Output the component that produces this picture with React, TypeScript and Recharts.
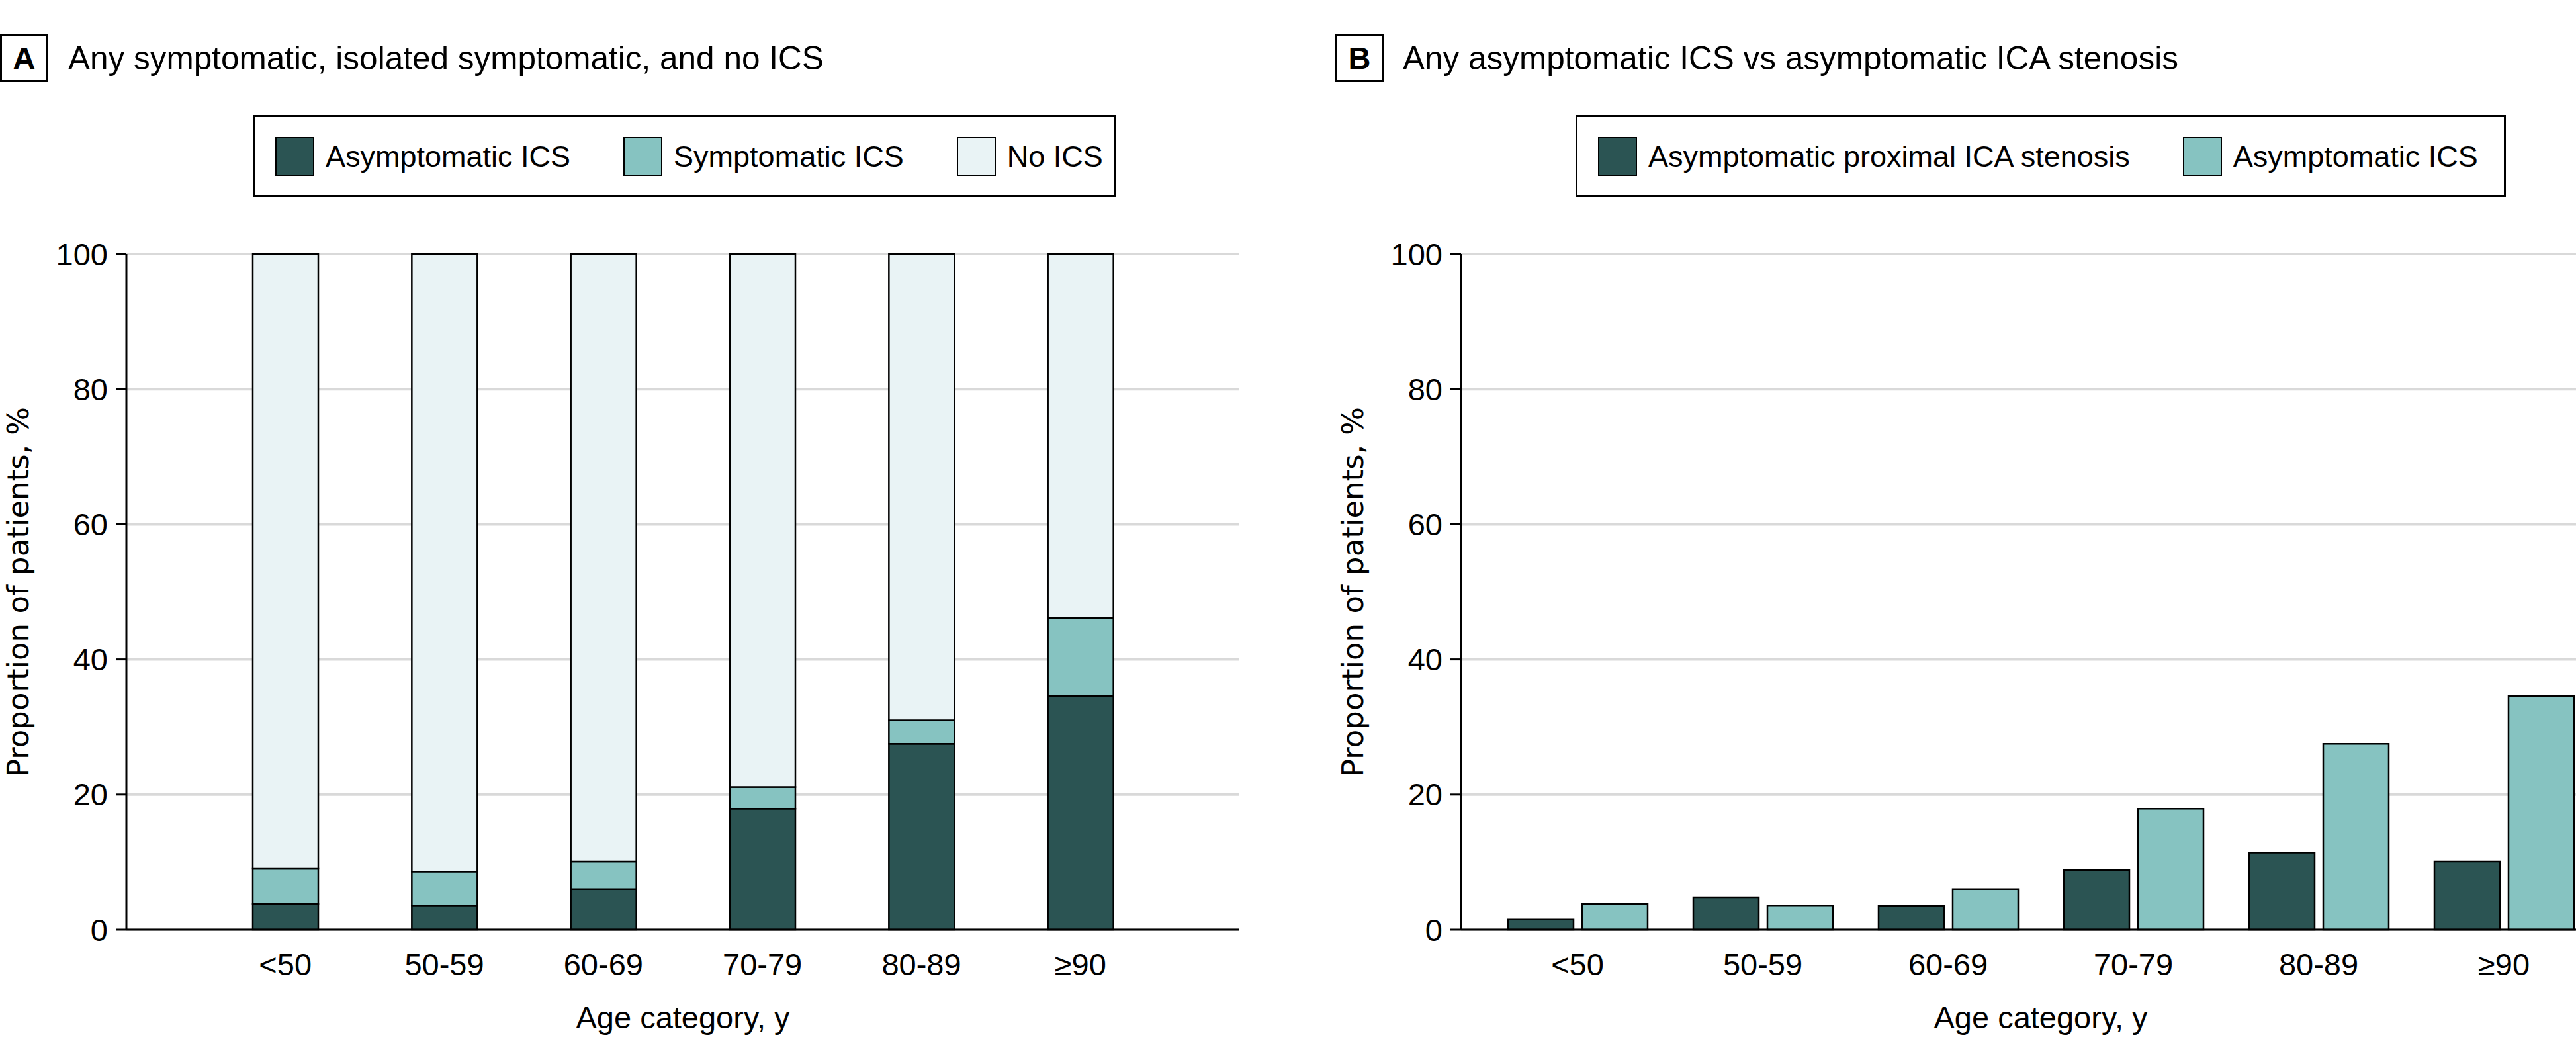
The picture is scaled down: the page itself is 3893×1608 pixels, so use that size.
import React from 'react';
import { BarChart, Bar, XAxis, YAxis, CartesianGrid, Label } from 'recharts';

const AGE_GROUPS = ['<50', '50-59', '60-69', '70-79', '80-89', '≥90'];

// panel A: stacked shares, %
const ASYMPTOMATIC_ICS = [3.8, 3.6, 6.0, 17.9, 27.5, 34.6];
const SYMPTOMATIC_ICS = [5.2, 5.0, 4.1, 3.2, 3.5, 11.5];
const NO_ICS = [91.0, 91.4, 89.9, 78.9, 69.0, 53.9];

// panel B: grouped, %
const ICA_STENOSIS = [1.5, 4.8, 3.5, 8.8, 11.4, 10.1];

const Y_TICKS = [0, 20, 40, 60, 80, 100];

const DARK = '#2b5453';
const MID = '#86c3c1';
const LIGHT = '#e9f3f5';

const FONT = "'Liberation Sans', Arial, sans-serif";

const seriesA = [
  { key: 'asym', label: 'Asymptomatic ICS', color: DARK },
  { key: 'sym', label: 'Symptomatic ICS', color: MID },
  { key: 'none', label: 'No ICS', color: LIGHT },
];

const seriesB = [
  { key: 'ica', label: 'Asymptomatic proximal ICA stenosis', color: DARK },
  { key: 'asym', label: 'Asymptomatic ICS', color: MID },
];

const dataA = AGE_GROUPS.map((age, i) => ({
  age,
  asym: ASYMPTOMATIC_ICS[i],
  sym: SYMPTOMATIC_ICS[i],
  none: NO_ICS[i],
}));

const dataB = AGE_GROUPS.map((age, i) => ({
  age,
  ica: ICA_STENOSIS[i],
  asym: ASYMPTOMATIC_ICS[i],
}));

const tickStyle = { fill: '#000', fontSize: 47, fontFamily: FONT };

const renderYTitle = (props: any) => {
  const { x, y, width, height } = props.viewBox;
  const bx = x + width - 148;
  const cy = y + height / 2;
  return (
    <text
      x={bx}
      y={cy}
      transform={`rotate(-90 ${bx} ${cy})`}
      textAnchor='middle'
      fontSize={45}
      fontFamily="'DejaVu Sans', sans-serif"
      fill='#000'
    >
      Proportion of patients, %
    </text>
  );
};

const renderXTitle = (props: any) => {
  const { x, y, width } = props.viewBox;
  return (
    <text
      x={x + width / 2}
      y={y + 149}
      textAnchor='middle'
      fontSize={47}
      fontFamily={FONT}
      fill='#000'
    >
      Age category, y
    </text>
  );
};

const LegendBox = ({
  items,
  left,
  width,
  padLeft,
}: {
  items: { key: string; label: string; color: string }[];
  left: number;
  width: number;
  padLeft: number;
}) => (
  <div
    style={{
      position: 'absolute',
      left,
      top: 174,
      width,
      height: 124,
      boxSizing: 'border-box',
      border: '3px solid #000',
      display: 'flex',
      alignItems: 'center',
      paddingLeft: padLeft,
      fontFamily: FONT,
      fontSize: 45,
    }}
  >
    {items.map((s) => (
      <div
        key={s.key}
        style={{ display: 'flex', alignItems: 'center', marginRight: 80 }}
      >
        <div
          style={{
            width: 59,
            height: 59,
            boxSizing: 'border-box',
            border: '2.5px solid #000',
            background: s.color,
            marginRight: 17,
          }}
        />
        <span style={{ lineHeight: 1, whiteSpace: 'nowrap' }}>{s.label}</span>
      </div>
    ))}
  </div>
);

const axisCommon = {
  stroke: '#000',
  strokeWidth: 3,
};

const App = () => {
  return (
    <div
      style={{
        position: 'absolute',
        left: 0,
        top: 0,
        width: 3893,
        height: 1608,
        overflow: 'hidden',
        background: '#fff',
        fontFamily: FONT,
      }}
    >
      <svg
        width={3893}
        height={140}
        style={{ position: 'absolute', left: 0, top: 0 }}
      >
        <rect x={1.5} y={52.5} width={70} height={70} fill='none' stroke='#000' strokeWidth={3} />
        <text x={36.5} y={104} textAnchor='middle' fontSize={47} fontWeight='bold' fontFamily={FONT}>
          A
        </text>
        <text x={103} y={105} fontSize={49.5} fontFamily={FONT}>
          Any symptomatic, isolated symptomatic, and no ICS
        </text>
        <rect x={2019.5} y={52.5} width={70} height={70} fill='none' stroke='#000' strokeWidth={3} />
        <text x={2054.5} y={104} textAnchor='middle' fontSize={47} fontWeight='bold' fontFamily={FONT}>
          B
        </text>
        <text x={2120} y={105} fontSize={49.5} fontFamily={FONT}>
          Any asymptomatic ICS vs asymptomatic ICA stenosis
        </text>
      </svg>

      <LegendBox items={seriesA} left={383} width={1303} padLeft={30} />
      <LegendBox items={seriesB} left={2381} width={1406} padLeft={31} />

      <div style={{ position: 'absolute', left: 0, top: 300 }}>
        <BarChart
          width={1900}
          height={1308}
          data={dataA}
          margin={{ top: 84, right: 27, bottom: 83, left: 0 }}
          barSize={99}
        >
          <CartesianGrid vertical={false} stroke='#d9d9d9' strokeWidth={4} />
          <XAxis
            dataKey='age'
            height={120}
            padding={{ left: 120, right: 120 }}
            axisLine={axisCommon}
            tickLine={false}
            tickSize={0}
            tickMargin={36}
            tick={tickStyle}
            interval={0}
          >
            <Label content={renderXTitle} />
          </XAxis>
          <YAxis
            width={191}
            domain={[0, 100]}
            ticks={Y_TICKS}
            axisLine={axisCommon}
            tickLine={axisCommon}
            tickSize={16}
            tickMargin={12}
            tick={tickStyle}
          >
            <Label content={renderYTitle} />
          </YAxis>
          {seriesA.map((s) => (
            <Bar
              key={s.key}
              dataKey={s.key}
              name={s.label}
              stackId='a'
              fill={s.color}
              stroke='#000'
              strokeWidth={2.5}
              isAnimationActive={false}
            />
          ))}
        </BarChart>
      </div>

      <div style={{ position: 'absolute', left: 1900, top: 300 }}>
        <BarChart
          width={2100}
          height={1308}
          data={dataB}
          margin={{ top: 84, right: 40, bottom: 83, left: 0 }}
          barSize={99}
          barGap={13}
        >
          <CartesianGrid vertical={false} stroke='#d9d9d9' strokeWidth={4} />
          <XAxis
            dataKey='age'
            height={120}
            padding={{ left: 36, right: 36 }}
            axisLine={axisCommon}
            tickLine={false}
            tickSize={0}
            tickMargin={36}
            tick={tickStyle}
            interval={0}
          >
            <Label content={renderXTitle} />
          </XAxis>
          <YAxis
            width={308}
            domain={[0, 100]}
            ticks={Y_TICKS}
            axisLine={axisCommon}
            tickLine={axisCommon}
            tickSize={16}
            tickMargin={12}
            tick={tickStyle}
          >
            <Label content={renderYTitle} />
          </YAxis>
          {seriesB.map((s) => (
            <Bar
              key={s.key}
              dataKey={s.key}
              name={s.label}
              fill={s.color}
              stroke='#000'
              strokeWidth={2.5}
              isAnimationActive={false}
            />
          ))}
        </BarChart>
      </div>
    </div>
  );
};

export default App;
